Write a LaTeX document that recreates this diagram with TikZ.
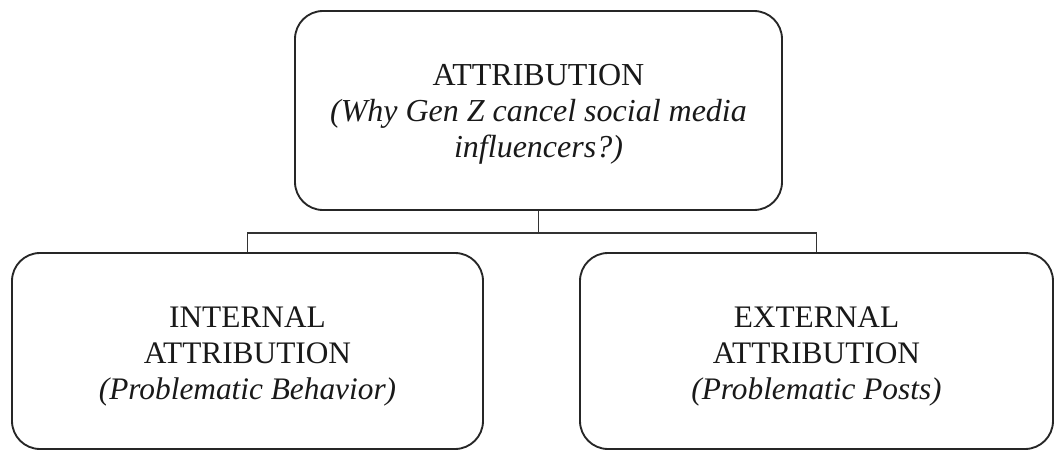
\documentclass[tikz,border=0pt]{standalone}
\usepackage{fontspec}
\setmainfont{Liberation Serif}
\begin{document}
\begin{tikzpicture}[x=0.75pt,y=-0.75pt,
  frame/.style={draw=black!85, line width=1.4pt, rounded corners=21pt,
    inner sep=0pt},
  caption/.style={align=center, inner sep=0pt, text=black!90},
  link/.style={draw=black!80, line width=1.4pt},
  topfont/.style={font=\fontsize{24}{27}\selectfont},
  subfont/.style={font=\fontsize{23.5}{27}\selectfont}]
\useasboundingbox (0,0) rectangle (1058,450);
% root box
\node[frame, minimum width=487*0.75pt, minimum height=199*0.75pt]
  (root) at (538.5,110.5) {};
\node[caption, topfont] (rootText) at ([yshift=-3pt]root.center)
  {ATTRIBUTION\\ \textit{(Why Gen Z cancel social media}\\ \textit{influencers?)}};
% two branches
\node[frame, minimum width=471*0.75pt, minimum height=196*0.75pt]
  (internal) at (247.5,351) {};
\node[caption, subfont] (internalText) at ([yshift=-3.8pt]internal.center)
  {INTERNAL\\ ATTRIBUTION\\ \textit{(Problematic Behavior)}};
\node[frame, minimum width=473*0.75pt, minimum height=196*0.75pt]
  (external) at (816.5,351) {};
\node[caption, subfont] (externalText) at ([yshift=-3.8pt]external.center)
  {EXTERNAL\\ ATTRIBUTION\\ \textit{(Problematic Posts)}};
% bracket connector
\coordinate (bus) at (538.5,233);
\draw[link] (root.south) -- (bus);
\draw[link] (internal.north) |- (bus) -| (external.north);
\end{tikzpicture}
\end{document}
